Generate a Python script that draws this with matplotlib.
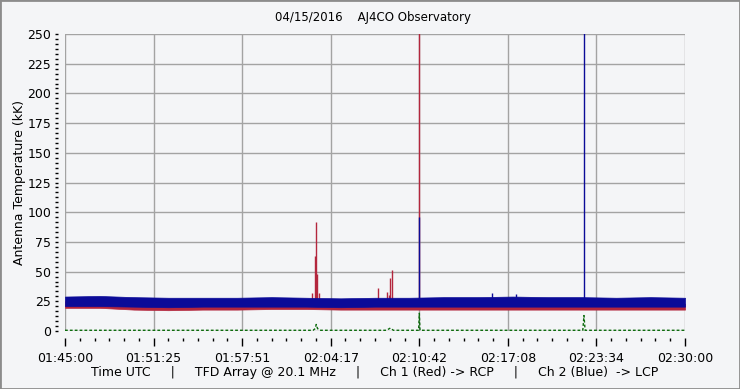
import matplotlib
matplotlib.use("Agg")
import matplotlib.pyplot as plt
import numpy as np
from matplotlib.ticker import AutoMinorLocator, FixedLocator
from matplotlib.patches import Rectangle

# seconds after 01:45:00 UTC
band_t = [0, 150, 300, 450, 600, 750, 900, 1050, 1200, 1350, 1500,
          1650, 1800, 1950, 2100, 2250, 2400, 2550, 2700]
blue_hi = [29.0, 29.5, 28.5, 28.0, 28.0, 28.0, 28.5, 28.0, 27.5, 28.0, 28.0,
           28.5, 28.5, 29.0, 28.5, 28.5, 28.0, 28.5, 28.0]
blue_lo = [21.0, 21.0, 20.5, 20.0, 20.5, 20.5, 20.5, 20.5, 20.0, 20.5, 20.5,
           20.5, 20.5, 20.5, 20.5, 20.5, 20.5, 20.5, 20.5]
red_hi = [25.0, 24.5, 23.5, 23.0, 23.0, 23.5, 24.0, 24.0, 23.0, 23.0, 23.0,
          23.0, 23.5, 23.5, 23.0, 23.0, 23.0, 23.0, 23.0]
red_lo = [19.5, 19.5, 18.0, 17.5, 18.0, 18.0, 18.5, 18.5, 18.0, 18.0, 18.0,
          18.0, 18.0, 18.0, 18.0, 18.0, 18.0, 18.0, 18.0]

red_spike_t = [1074, 1090, 1094, 1099, 1104, 1362, 1404, 1413, 1417, 1426, 1543]
red_spike_v = [32, 63, 92, 48, 32, 36, 33, 30, 45, 51, 260]
blue_spike_t = [1543, 1860, 1965, 2260]
blue_spike_v = [96, 32, 31, 260]

green_t = [0, 1080, 1090, 1094, 1100, 1110, 1400, 1417, 1430, 1540, 1543, 1546,
           2255, 2260, 2265, 2700]
green_v = [0.6, 0.6, 2.0, 5.5, 2.0, 0.6, 0.6, 2.5, 0.6, 0.6, 15.0, 0.6,
           0.6, 13.0, 0.6, 0.6]

x_labels = ["01:45:00", "01:51:25", "01:57:51", "02:04:17", "02:10:42",
            "02:17:08", "02:23:34", "02:30:00"]
y_ticks = [0, 25, 50, 75, 100, 125, 150, 175, 200, 225, 250]

RED = "#b3263d"
BLUE = "#0b0b98"
GREEN = "#0b6a0b"
BG = "#f4f5f7"
GRID = "#a3a3a3"

plt.rcParams["font.family"] = ["DejaVu Sans"]

fig = plt.figure(figsize=(7.4, 3.89), dpi=100, facecolor=BG)
ax = fig.add_axes([65 / 740, 58 / 389, 620 / 740, 297 / 389])
ax.set_facecolor(BG)

ax.fill_between(band_t, red_lo, red_hi, color=RED, lw=0.5, zorder=2)
ax.vlines(red_spike_t, 22, red_spike_v, color=RED, lw=1.0, zorder=2)
ax.fill_between(band_t, blue_lo, blue_hi, color=BLUE, lw=0.5, zorder=3)
ax.vlines(blue_spike_t, 24, blue_spike_v, color=BLUE, lw=1.0, zorder=3)
ax.plot(green_t, green_v, color=GREEN, lw=1.0, ls=(0, (2, 1.5)), zorder=4)

ax.set_xlim(0, 2700)
ax.set_ylim(0, 250)

ax.xaxis.set_major_locator(FixedLocator(np.linspace(0, 2700, len(x_labels))))
ax.set_xticklabels(x_labels)
ax.xaxis.set_minor_locator(AutoMinorLocator(6))
ax.set_yticks(y_ticks)
ax.yaxis.set_minor_locator(AutoMinorLocator(6))

for side in ["left", "bottom"]:
    ax.spines[side].set_position(("outward", 5))
for side in ax.spines:
    ax.spines[side].set_visible(False)

ax.tick_params(axis="x", which="major", length=6, width=1, direction="out",
               labelsize=9, pad=4)
ax.tick_params(axis="x", which="minor", length=2.5, width=1, direction="out")
ax.tick_params(axis="y", which="major", length=2, width=1, direction="out",
               labelsize=9, pad=3)
ax.tick_params(axis="y", which="minor", length=2, width=1, direction="out")

ax.grid(True, which="major", color=GRID, lw=1.0, zorder=1)
ax.set_axisbelow(True)

ax.set_ylabel("Antenna Temperature (kK)", fontsize=9, labelpad=1)
ax.set_xlabel("Time UTC     |     TFD Array @ 20.1 MHz     |     Ch 1 (Red) -> RCP"
              "     |     Ch 2 (Blue)  -> LCP", fontsize=9, labelpad=1)
fig.text(373 / 740, 1 - 18 / 389, "04/15/2016    AJ4CO Observatory",
         ha="center", va="center", fontsize=8.5)

fig.patches.append(Rectangle((0, 0), 1, 1, transform=fig.transFigure,
                             fill=False, edgecolor="#8c8c8c", lw=2))

fig.savefig("out.png", dpi=100, facecolor=BG)
